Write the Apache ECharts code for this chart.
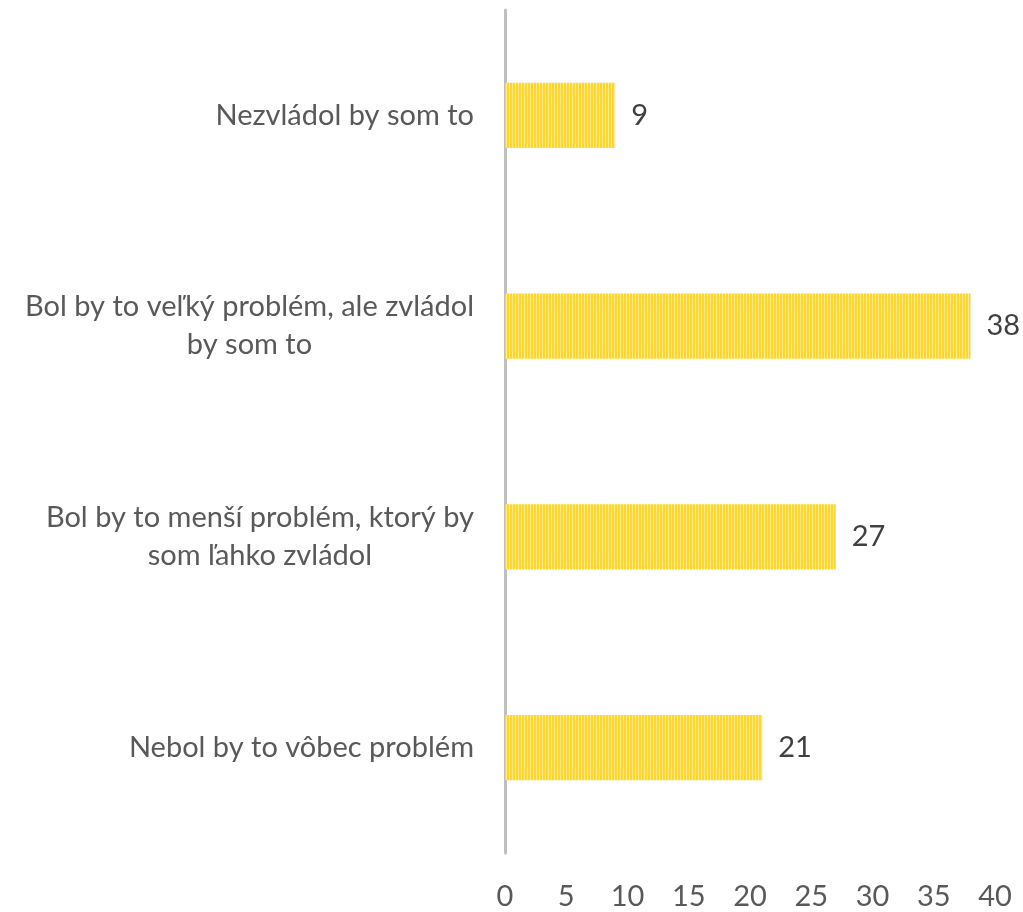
<!DOCTYPE html>
<html><head><meta charset="utf-8">
<script src="https://cdn.jsdelivr.net/npm/echarts@6/dist/echarts.min.js"></script>
<style>html,body{margin:0;padding:0;background:#fff}#c{width:1023px;height:912px}</style>
</head><body><div id="c"></div>
<script>
const categories = [
  "Nebol by to vôbec problém",
  "Bol by to menší problém, ktorý by\nsom ľahko zvládol",
  "Bol by to veľký problém, ale zvládol\nby som to",
  "Nezvládol by som to"
];
const values = [21, 27, 38, 9];
const xTicks = [0, 5, 10, 15, 20, 25, 30, 35, 40];

const pc = document.createElement('canvas');
pc.width = 3; pc.height = 4;
const g = pc.getContext('2d');
g.fillStyle = '#FFD629'; g.fillRect(0, 0, 3, 4);
g.fillStyle = '#FFEA8F'; g.fillRect(2, 0, 1, 4);

const FS = 29;
const chart = echarts.init(document.getElementById('c'), null, {renderer: 'canvas'});
chart.setOption({
  animation: false,
  textStyle: {fontFamily: 'Lato'},
  grid: {left: 505, right: 28, top: 10, bottom: 59, containLabel: false},
  xAxis: {
    type: 'value', min: xTicks[0], max: xTicks[xTicks.length - 1], interval: 5,
    axisLine: {show: false}, axisTick: {show: false}, splitLine: {show: false},
    axisLabel: {color: '#595959', fontSize: FS, margin: 29, fontFamily: 'Lato'}
  },
  yAxis: {
    type: 'category', data: categories,
    axisLine: {show: true, lineStyle: {color: '#BFBFBF', width: 3}},
    axisTick: {show: false},
    axisLabel: {
      color: '#595959', fontSize: FS, margin: 31, fontFamily: 'Lato', lineHeight: 38,
      formatter: v => v.split('\n').map(l => '{c|' + l + '}').join('\n'),
      rich: {c: {align: 'center', color: '#595959', fontSize: FS, fontFamily: 'Lato', lineHeight: 38}}
    }
  },
  series: [{
    type: 'bar', data: values, barCategoryGap: '69%',
    itemStyle: {color: {image: pc, repeat: 'repeat'}},
    label: {show: true, position: 'right', distance: 16, color: '#404040', fontSize: FS, fontFamily: 'Lato'}
  }]
});
</script></body></html>
